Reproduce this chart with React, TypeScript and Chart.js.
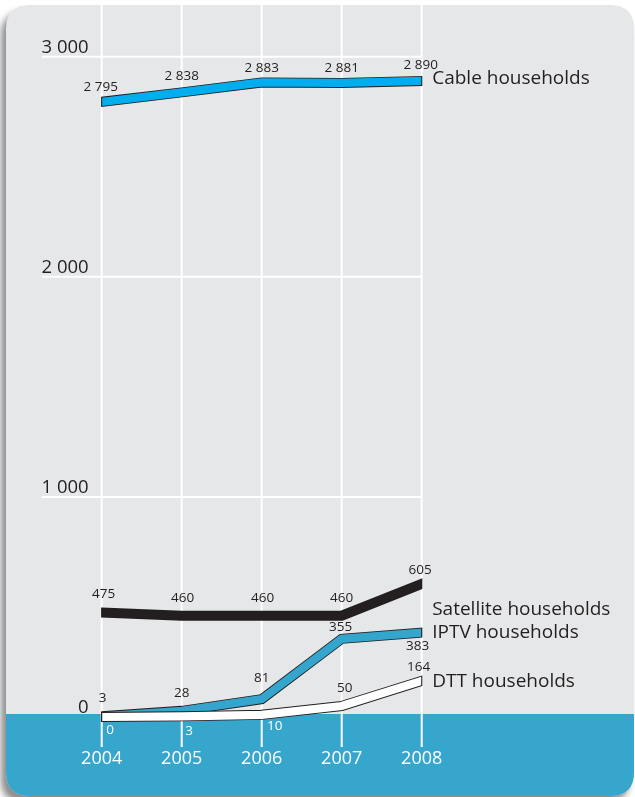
import React, { useEffect, useRef } from "react";
import { Chart, registerables } from "chart.js";

Chart.register(...registerables);

// ---------- data ----------
const years = ["2004", "2005", "2006", "2007", "2008"];
const cable = [2795, 2838, 2883, 2881, 2890];
const satellite = [475, 460, 460, 460, 605];
const iptv = [3, 28, 81, 355, 383];
const dtt = [0, 3, 10, 50, 164];
const seriesNames = ["Cable households", "Satellite households", "IPTV households", "DTT households"];
const yTicks = [0, 1000, 2000, 3000];

// ---------- styles ----------
const FONT = '"Open Sans", "Noto Sans", sans-serif';
const DARK = "#231f20";
const PANEL = "#e6e7e8";
const BAND = "#36a6cc";
const OUTER_W = 10;
const INNER_W = 8.2;

const seriesStyles = [
  {
    data: cable,
    name: seriesNames[0],
    fill: "#00aeef",
    dx: [-1, 0, 0, 0, -1],
    dy: [-15, -16.5, -14.5, -14.5, -16],
    colors: [DARK, DARK, DARK, DARK, DARK],
    nameDy: -2,
  },
  {
    data: satellite,
    name: seriesNames[1],
    fill: DARK,
    dx: [2, 1, 1, 0, -1.5],
    dy: [-18, -18, -18, -18, -14],
    colors: [DARK, DARK, DARK, DARK, DARK],
    nameDy: 26,
  },
  {
    data: iptv,
    name: seriesNames[2],
    fill: "#34a5cc",
    dx: [1, 0, 0, -1, -4],
    dy: [-18, -18, -21, -11.5, 13],
    colors: [DARK, DARK, DARK, DARK, DARK],
    nameDy: -0.5,
  },
  {
    data: dtt,
    name: seriesNames[3],
    fill: "#ffffff",
    dx: [8.3, 7.5, 13, 3, -3],
    dy: [13, 15, 11, -17.5, -14],
    colors: ["#ffffff", "#ffffff", "#ffffff", DARK, DARK],
    nameDy: 1,
  },
];

const fmt = (v: number) => String(v).replace(/\B(?=(\d{3})+(?!\d))/g, " ");

function roundRectPath(ctx: CanvasRenderingContext2D, x: number, y: number, w: number, h: number, r: number) {
  ctx.beginPath();
  ctx.moveTo(x + r, y);
  ctx.lineTo(x + w - r, y);
  ctx.quadraticCurveTo(x + w, y, x + w, y + r);
  ctx.lineTo(x + w, y + h - r);
  ctx.quadraticCurveTo(x + w, y + h, x + w - r, y + h);
  ctx.lineTo(x + r, y + h);
  ctx.quadraticCurveTo(x, y + h, x, y + h - r);
  ctx.lineTo(x, y + r);
  ctx.quadraticCurveTo(x, y, x + r, y);
  ctx.closePath();
}

const infographicPlugin = {
  id: "infographic",
  beforeDraw(chart: any) {
    const ctx: CanvasRenderingContext2D = chart.ctx;
    const W = chart.width;
    const H = chart.height;
    const px = 6, py = 5, pw = W - 7, ph = H - 6, pr = 24;
    ctx.save();
    ctx.fillStyle = "#ffffff";
    ctx.fillRect(0, 0, W, H);
    // panel with shadow
    ctx.shadowColor = "rgba(0,0,0,0.45)";
    ctx.shadowBlur = 7;
    ctx.shadowOffsetX = -5;
    ctx.shadowOffsetY = 7;
    roundRectPath(ctx, px, py, pw, ph, pr);
    ctx.fillStyle = PANEL;
    ctx.fill();
    ctx.shadowColor = "transparent";
    ctx.shadowBlur = 0;
    ctx.shadowOffsetX = 0;
    ctx.shadowOffsetY = 0;
    // band
    ctx.save();
    roundRectPath(ctx, px, py, pw, ph, pr);
    ctx.clip();
    ctx.fillStyle = BAND;
    ctx.fillRect(0, 714, W, H - 714);
    ctx.restore();
    // gridlines
    const xs = chart.scales.x;
    const ys = chart.scales.y;
    ctx.strokeStyle = "#ffffff";
    ctx.lineWidth = 2;
    ctx.beginPath();
    years.forEach((_, i) => {
      const x = xs.getPixelForValue(i);
      ctx.moveTo(x, py);
      ctx.lineTo(x, 747);
    });
    ys.ticks.forEach((t: any) => {
      if (t.value === 0) return;
      const y = ys.getPixelForValue(t.value);
      ctx.moveTo(41.7, y);
      ctx.lineTo(chart.chartArea.right + 1, y);
    });
    ctx.stroke();
    ctx.restore();
  },
  afterDatasetDraw(chart: any, args: any) {
    const s = seriesStyles[args.index];
    const pts = args.meta.data;
    if (!s || !pts.length) return;
    const ctx: CanvasRenderingContext2D = chart.ctx;
    const ca = chart.chartArea;
    ctx.save();
    // clip so the coloured core stops just inside the dark end edge
    ctx.beginPath();
    ctx.rect(ca.left + 0.5, 0, ca.right - ca.left - 1, chart.height);
    ctx.clip();
    ctx.lineJoin = "miter";
    ctx.lineCap = "square";
    ctx.lineWidth = INNER_W;
    ctx.strokeStyle = s.fill;
    ctx.beginPath();
    pts.forEach((p: any, j: number) => (j === 0 ? ctx.moveTo(p.x, p.y) : ctx.lineTo(p.x, p.y)));
    ctx.stroke();
    ctx.restore();
  },
  afterDatasetsDraw(chart: any) {
    const ctx: CanvasRenderingContext2D = chart.ctx;
    ctx.save();
    ctx.textBaseline = "middle";
    seriesStyles.forEach((s, si) => {
      const meta = chart.getDatasetMeta(si);
      ctx.font = `13.5px ${FONT}`;
      ctx.textAlign = "center";
      meta.data.forEach((pt: any, j: number) => {
        ctx.fillStyle = s.colors[j];
        ctx.fillText(fmt(s.data[j]), pt.x + s.dx[j], pt.y + s.dy[j]);
      });
      const last = meta.data[meta.data.length - 1];
      ctx.font = `19px ${FONT}`;
      ctx.textAlign = "left";
      ctx.fillStyle = DARK;
      ctx.fillText(s.name, last.x + 10.5, last.y + s.nameDy);
    });
    ctx.restore();
  },
};

export default function App() {
  const canvasRef = useRef<HTMLCanvasElement | null>(null);

  useEffect(() => {
    if (!canvasRef.current) return;
    const datasets = seriesStyles.map((s, i) => ({
      label: s.name,
      data: s.data,
      tension: 0,
      pointRadius: 0,
      pointHoverRadius: 0,
      fill: false,
      borderJoinStyle: "miter",
      borderCapStyle: "square",
      borderColor: DARK,
      borderWidth: OUTER_W,
      clip: { left: 0.6, right: 0.6, top: 30, bottom: 30 },
      order: 3 - i,
    }));

    const chart = new Chart(canvasRef.current, {
      type: "line",
      data: { labels: years, datasets },
      options: {
        animation: false,
        responsive: true,
        maintainAspectRatio: false,
        devicePixelRatio: 1,
        layout: { padding: { left: 41.7, right: 213.3, top: 56.7, bottom: 0 } },
        plugins: { legend: { display: false }, tooltip: { enabled: false } },
        events: [],
        scales: {
          x: {
            type: "category",
            offset: false,
            grid: { display: false, drawTicks: false },
            border: { display: false },
            ticks: { color: "#ffffff", font: { family: FONT, size: 18 }, padding: 31, maxRotation: 0 },
            afterFit: (s: any) => {
              s.height = 80;
            },
          },
          y: {
            min: 0,
            max: 3000,
            grid: { display: false, drawTicks: false },
            border: { display: false },
            afterBuildTicks: (s: any) => {
              s.ticks = yTicks.map((v) => ({ value: v }));
            },
            ticks: {
              color: DARK,
              font: { family: FONT, size: 18.5 },
              padding: 13,
              labelOffset: -9,
              callback: (v: any) => fmt(Number(v)),
            },
            afterFit: (s: any) => {
              s.width = 60;
            },
          },
        },
      } as any,
      plugins: [infographicPlugin],
    });
    return () => chart.destroy();
  }, []);

  return (
    <div style={{ position: "absolute", left: 0, top: 0, width: 635, height: 797 }}>
      <canvas ref={canvasRef} />
    </div>
  );
}
